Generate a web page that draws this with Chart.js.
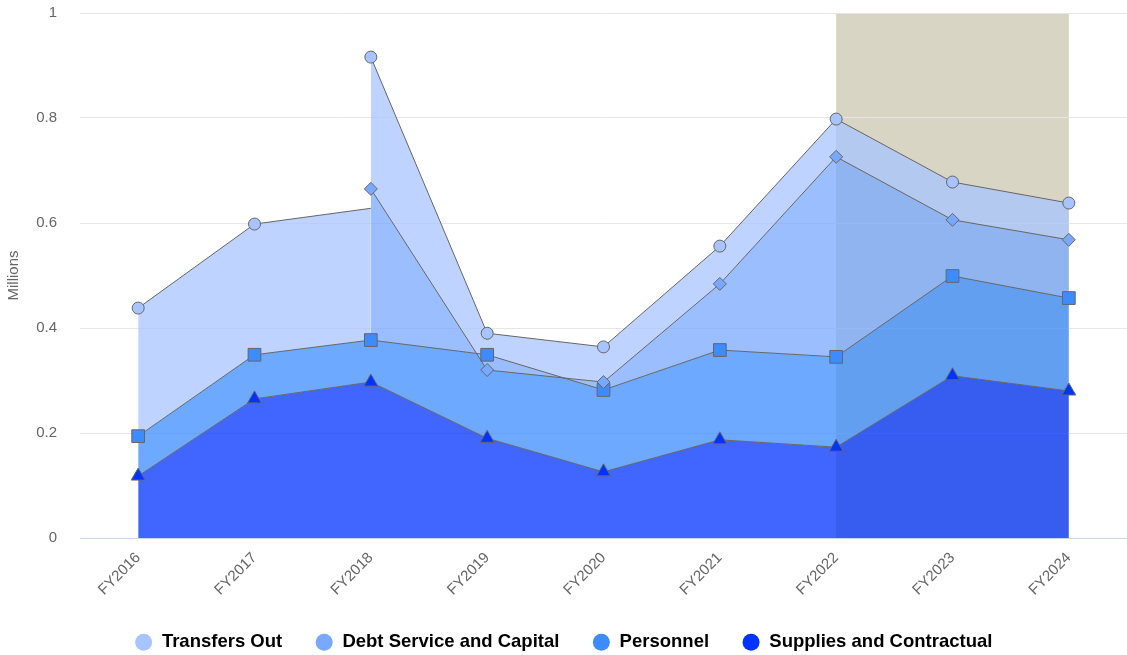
<!DOCTYPE html>
<html>
<head>
<meta charset="utf-8">
<script src="https://cdn.jsdelivr.net/npm/chart.js@4.4.1/dist/chart.umd.min.js"></script>
<style>
    html, body { margin: 0; padding: 0; background: #ffffff; }
</style>
</head>
<body>
<canvas id="chart" width="1127" height="655"></canvas>
<script>
var categories = ["FY2016", "FY2017", "FY2018", "FY2019", "FY2020", "FY2021", "FY2022", "FY2023", "FY2024"];
// values in millions, per series (not cumulative)
var suppliesContractual = [0.118, 0.265, 0.297, 0.190, 0.126, 0.187, 0.173, 0.309, 0.280];
var personnel = [0.076, 0.084, 0.080, 0.159, 0.156, 0.171, 0.172, 0.190, 0.177];
var debtServiceCapital = [null, null, 0.288, -0.029, 0.015, 0.126, 0.381, 0.107, 0.111];
var transfersOut = [0.244, 0.249, 0.251, 0.070, 0.067, 0.072, 0.072, 0.072, 0.070];
var yTicks = [0, 0.2, 0.4, 0.6, 0.8, 1];
var bandFrom = "FY2022";
var bandTo = "FY2024";

var seriesColors = ["#a8c4ff", "#78a8ff", "#3c8cff", "#0033ff"];
var seriesFills = ["rgba(168,196,255,0.75)", "rgba(120,168,255,0.75)", "rgba(60,140,255,0.75)", "rgba(0,51,255,0.75)"];

// stack the series by hand (debt is missing for the first years)
var supPts = [], perPts = [], debtPts = [], trPts = [];
categories.forEach(function (cat, i) {
    var s = suppliesContractual[i];
    var p = s + personnel[i];
    var debt = debtServiceCapital[i];
    var d = p + (debt == null ? 0 : debt);
    supPts.push({ x: cat, y: s });
    perPts.push({ x: cat, y: p });
    if (debt == null) {
        debtPts.push({ x: cat, y: p, gap: true });
    } else {
        if (i > 0 && debtServiceCapital[i - 1] == null) {
            debtPts.push({ x: cat, y: p, gap: true });
            trPts.push({ x: cat, y: p + transfersOut[i], noMarker: true });
        }
        debtPts.push({ x: cat, y: d });
    }
    trPts.push({ x: cat, y: d + transfersOut[i] });
});

function segColor(pts) {
    return function (ctx) {
        var a = pts[ctx.p0DataIndex], b = pts[ctx.p1DataIndex];
        if ((a && a.gap) || (b && b.gap) || Math.abs(ctx.p0.x - ctx.p1.x) < 0.5) return "rgba(0,0,0,0)";
        return undefined;
    };
}

function markerRadius(size) {
    return function (ctx) {
        return ctx.raw && (ctx.raw.gap || ctx.raw.noMarker) ? 0 : size;
    };
}

function makeSeries(label, pts, idx, fill, style, size) {
    return {
        label: label,
        data: pts,
        fill: fill,
        backgroundColor: seriesFills[idx],
        borderColor: "#666666",
        borderWidth: 1,
        tension: 0,
        pointStyle: style,
        pointRadius: markerRadius(size),
        pointHoverRadius: markerRadius(size),
        pointBackgroundColor: seriesColors[idx],
        pointBorderColor: "#666666",
        pointBorderWidth: 1,
        segment: { borderColor: segColor(pts) }
    };
}

var LEGEND_PAD = 33;

var bandPlugin = {
    id: "band",
    beforeLayout: function (chart) {
        // fixed legend strip at the bottom
        var lg = chart.legend;
        if (lg && !lg._fixed) {
            var fit = lg.fit;
            lg.fit = function () {
                fit.call(this);
                if (this.isHorizontal()) this.height = 655 - 633 + LEGEND_PAD;
            };
            lg._fixed = true;
        }
    },
    beforeDraw: function (chart) {
        var x = chart.scales.x, area = chart.chartArea, ctx = chart.ctx;
        var x0 = x.getPixelForValue(categories.indexOf(bandFrom));
        var x1 = x.getPixelForValue(categories.indexOf(bandTo));
        ctx.save();
        ctx.fillStyle = "#d8d5c4";
        ctx.fillRect(x0, area.top, x1 - x0, area.bottom - area.top);
        ctx.restore();
    }
};

Chart.defaults.font.family = "'Liberation Sans', Arial, Helvetica, sans-serif";

new Chart(document.getElementById("chart"), {
    type: "line",
    data: {
        labels: categories,
        datasets: [
            makeSeries("Transfers Out", trPts, 0, "+1", "circle", 6),
            makeSeries("Debt Service and Capital", debtPts, 1, "+1", "rectRot", 6.5),
            makeSeries("Personnel", perPts, 2, "+1", "rect", 9),
            makeSeries("Supplies and Contractual", supPts, 3, "origin", "triangle", 8)
        ]
    },
    options: {
        responsive: false,
        animation: false,
        layout: { autoPadding: false, padding: { top: 13, left: 0, right: 0, bottom: 0 } },
        scales: {
            x: {
                type: "category",
                offset: true,
                afterFit: function (s) {
                    s.height = 655 - (655 - 633 + LEGEND_PAD) - 538;
                    s.paddingLeft = 0;
                    s.paddingRight = 0;
                },
                grid: { drawOnChartArea: false, drawTicks: false, color: "#ccd6eb" },
                border: { color: "#ccd6eb" },
                ticks: { color: "#666666", font: { size: 15 }, minRotation: 45, maxRotation: 45, padding: 11, autoSkip: false }
            },
            y: {
                min: 0,
                max: 1,
                afterBuildTicks: function (s) { s.ticks = yTicks.map(function (v) { return { value: v }; }); },
                afterFit: function (s) {
                    s.width = 80;
                    s.paddingTop = 0;
                    s.paddingBottom = 0;
                },
                grid: { color: "#e6e6e6", drawTicks: false },
                border: { display: false },
                ticks: {
                    color: "#666666",
                    font: { size: 15 },
                    padding: 23,
                    callback: function (v) { return String(Math.round(v * 10) / 10); }
                },
                title: { display: true, text: "Millions", color: "#666666", font: { size: 15 }, padding: { top: 5, bottom: 0 } }
            }
        },
        plugins: {
            filler: { drawTime: "beforeDatasetsDraw" },
            tooltip: { enabled: false },
            legend: {
                position: "bottom",
                labels: {
                    usePointStyle: true,
                    boxWidth: 18,
                    boxHeight: 12,
                    padding: LEGEND_PAD,
                    color: "#333333",
                    font: { size: 18.5, weight: "bold" },
                    generateLabels: function (chart) {
                        return chart.data.datasets.map(function (ds, i) {
                            return {
                                text: ds.label,
                                fillStyle: seriesColors[i],
                                strokeStyle: seriesColors[i],
                                lineWidth: 0,
                                pointStyle: "circle",
                                hidden: false,
                                datasetIndex: i
                            };
                        });
                    }
                }
            }
        }
    },
    plugins: [bandPlugin]
});
</script>
</body>
</html>
